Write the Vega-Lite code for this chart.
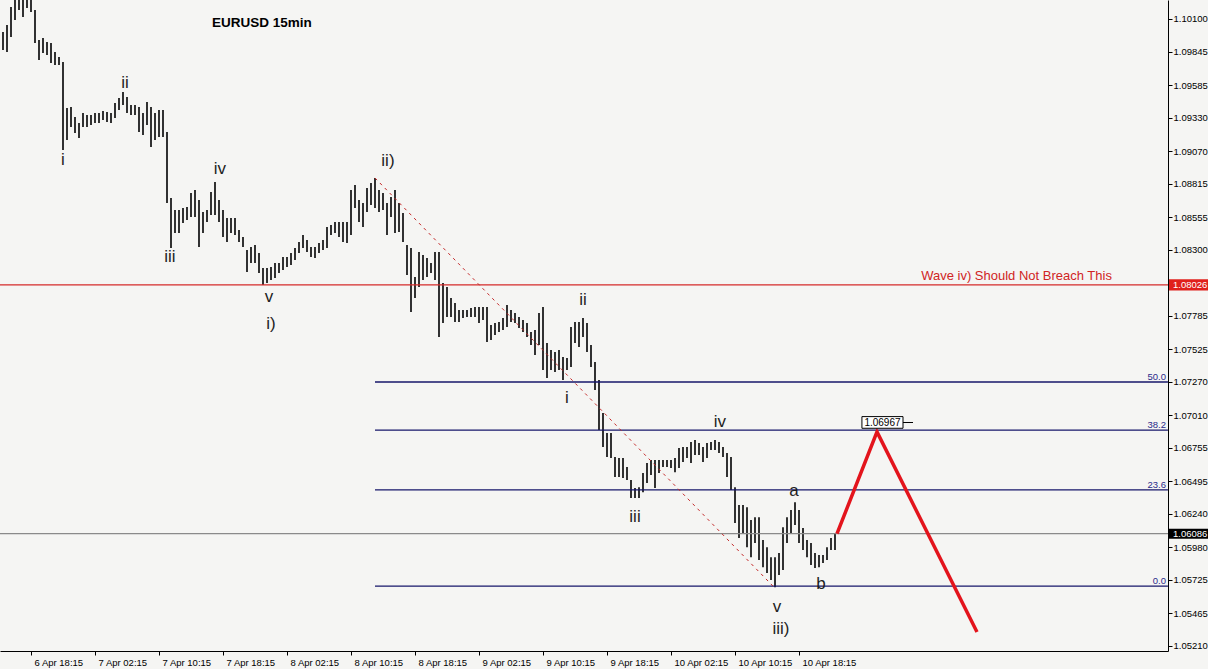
{
  "$schema": "https://vega.github.io/schema/vega-lite/v6.json",
  "width": 1168,
  "height": 651,
  "autosize": {"type": "none"},
  "padding": {"left": 0, "top": 0, "right": 40, "bottom": 18},
  "background": "#f5f5f3",
  "view": {"stroke": null},
  "resolve": {"axis": {"x": "independent", "y": "independent"}},
  "config": {
    "font": "Liberation Sans",
    "axis": {"labelOverlap": false, "labelBound": false, "labelFlush": false, "labelSeparation": 0, "grid": false, "tickSize": 4, "tickColor": "#000000", "domainColor": "#000000", "labelColor": "#000000", "labelFontSize": 9.5, "domainWidth": 1, "tickWidth": 1},
    "axisX": {"labelAlign": "left", "labelOffset": 3, "labelBaseline": "top", "labelPadding": 2},
    "axisY": {"labelAlign": "left", "labelPadding": 1, "labelBaseline": "middle"}
  },
  "datasets": {
    "bars": [
      {"t":"2015-04-06T14:45Z","h":1.09998,"l":1.09858},
      {"t":"2015-04-06T15:15Z","h":1.10053,"l":1.09842},
      {"t":"2015-04-06T15:45Z","h":1.10193,"l":1.09959},
      {"t":"2015-04-06T16:15Z","h":1.10310,"l":1.10092},
      {"t":"2015-04-06T16:45Z","h":1.10326,"l":1.10170},
      {"t":"2015-04-06T17:15Z","h":1.10310,"l":1.10115},
      {"t":"2015-04-06T17:45Z","h":1.10326,"l":1.10186},
      {"t":"2015-04-06T18:15Z","h":1.10295,"l":1.10154},
      {"t":"2015-04-06T18:45Z","h":1.10170,"l":1.09913},
      {"t":"2015-04-06T19:15Z","h":1.09936,"l":1.09780},
      {"t":"2015-04-06T19:45Z","h":1.09952,"l":1.09835},
      {"t":"2015-04-06T20:15Z","h":1.09920,"l":1.09819},
      {"t":"2015-04-06T20:45Z","h":1.09913,"l":1.09757},
      {"t":"2015-04-06T21:15Z","h":1.09842,"l":1.09741},
      {"t":"2015-04-06T21:45Z","h":1.09803,"l":1.09741},
      {"t":"2015-04-06T22:15Z","h":1.09764,"l":1.09078},
      {"t":"2015-04-06T22:45Z","h":1.09406,"l":1.09156},
      {"t":"2015-04-06T23:15Z","h":1.09413,"l":1.09257},
      {"t":"2015-04-06T23:45Z","h":1.09335,"l":1.09211},
      {"t":"2015-04-07T00:15Z","h":1.09289,"l":1.09172},
      {"t":"2015-04-07T00:45Z","h":1.09367,"l":1.09257},
      {"t":"2015-04-07T01:15Z","h":1.09351,"l":1.09257},
      {"t":"2015-04-07T01:45Z","h":1.09351,"l":1.09273},
      {"t":"2015-04-07T02:15Z","h":1.09367,"l":1.09289},
      {"t":"2015-04-07T02:45Z","h":1.09367,"l":1.09289},
      {"t":"2015-04-07T03:15Z","h":1.09382,"l":1.09312},
      {"t":"2015-04-07T03:45Z","h":1.09374,"l":1.09296},
      {"t":"2015-04-07T04:15Z","h":1.09367,"l":1.09289},
      {"t":"2015-04-07T04:45Z","h":1.09445,"l":1.09328},
      {"t":"2015-04-07T05:15Z","h":1.09484,"l":1.09390},
      {"t":"2015-04-07T05:45Z","h":1.09530,"l":1.09429},
      {"t":"2015-04-07T06:15Z","h":1.09491,"l":1.09367},
      {"t":"2015-04-07T06:45Z","h":1.09429,"l":1.09351},
      {"t":"2015-04-07T07:15Z","h":1.09429,"l":1.09351},
      {"t":"2015-04-07T07:45Z","h":1.09413,"l":1.09218},
      {"t":"2015-04-07T08:15Z","h":1.09367,"l":1.09195},
      {"t":"2015-04-07T08:45Z","h":1.09452,"l":1.09273},
      {"t":"2015-04-07T09:15Z","h":1.09413,"l":1.09101},
      {"t":"2015-04-07T09:45Z","h":1.09367,"l":1.09156},
      {"t":"2015-04-07T10:15Z","h":1.09390,"l":1.09179},
      {"t":"2015-04-07T10:45Z","h":1.09390,"l":1.09179},
      {"t":"2015-04-07T11:15Z","h":1.09218,"l":1.08665},
      {"t":"2015-04-07T11:45Z","h":1.08704,"l":1.08314},
      {"t":"2015-04-07T12:15Z","h":1.08610,"l":1.08431},
      {"t":"2015-04-07T12:45Z","h":1.08610,"l":1.08431},
      {"t":"2015-04-07T13:15Z","h":1.08626,"l":1.08509},
      {"t":"2015-04-07T13:45Z","h":1.08633,"l":1.08532},
      {"t":"2015-04-07T14:15Z","h":1.08743,"l":1.08555},
      {"t":"2015-04-07T14:45Z","h":1.08766,"l":1.08555},
      {"t":"2015-04-07T15:15Z","h":1.08688,"l":1.08321},
      {"t":"2015-04-07T15:45Z","h":1.08594,"l":1.08431},
      {"t":"2015-04-07T16:15Z","h":1.08610,"l":1.08516},
      {"t":"2015-04-07T16:45Z","h":1.08750,"l":1.08571},
      {"t":"2015-04-07T17:15Z","h":1.08828,"l":1.08571},
      {"t":"2015-04-07T17:45Z","h":1.08688,"l":1.08516},
      {"t":"2015-04-07T18:15Z","h":1.08610,"l":1.08399},
      {"t":"2015-04-07T18:45Z","h":1.08548,"l":1.08360},
      {"t":"2015-04-07T19:15Z","h":1.08548,"l":1.08431},
      {"t":"2015-04-07T19:45Z","h":1.08548,"l":1.08415},
      {"t":"2015-04-07T20:15Z","h":1.08454,"l":1.08360},
      {"t":"2015-04-07T20:45Z","h":1.08399,"l":1.08321},
      {"t":"2015-04-07T21:15Z","h":1.08298,"l":1.08126},
      {"t":"2015-04-07T21:45Z","h":1.08321,"l":1.08197},
      {"t":"2015-04-07T22:15Z","h":1.08337,"l":1.08197},
      {"t":"2015-04-07T22:45Z","h":1.08275,"l":1.08119},
      {"t":"2015-04-07T23:15Z","h":1.08158,"l":1.08025},
      {"t":"2015-04-07T23:45Z","h":1.08158,"l":1.08041},
      {"t":"2015-04-08T00:15Z","h":1.08165,"l":1.08064},
      {"t":"2015-04-08T00:45Z","h":1.08197,"l":1.08080},
      {"t":"2015-04-08T01:15Z","h":1.08197,"l":1.08119},
      {"t":"2015-04-08T01:45Z","h":1.08243,"l":1.08142},
      {"t":"2015-04-08T02:15Z","h":1.08243,"l":1.08165},
      {"t":"2015-04-08T02:45Z","h":1.08275,"l":1.08181},
      {"t":"2015-04-08T03:15Z","h":1.08314,"l":1.08220},
      {"t":"2015-04-08T03:45Z","h":1.08360,"l":1.08275},
      {"t":"2015-04-08T04:15Z","h":1.08415,"l":1.08314},
      {"t":"2015-04-08T04:45Z","h":1.08376,"l":1.08282},
      {"t":"2015-04-08T05:15Z","h":1.08321,"l":1.08243},
      {"t":"2015-04-08T05:45Z","h":1.08321,"l":1.08236},
      {"t":"2015-04-08T06:15Z","h":1.08353,"l":1.08275},
      {"t":"2015-04-08T06:45Z","h":1.08376,"l":1.08298},
      {"t":"2015-04-08T07:15Z","h":1.08477,"l":1.08314},
      {"t":"2015-04-08T07:45Z","h":1.08493,"l":1.08415},
      {"t":"2015-04-08T08:15Z","h":1.08516,"l":1.08431},
      {"t":"2015-04-08T08:45Z","h":1.08516,"l":1.08399},
      {"t":"2015-04-08T09:15Z","h":1.08516,"l":1.08360},
      {"t":"2015-04-08T09:45Z","h":1.08516,"l":1.08353},
      {"t":"2015-04-08T10:15Z","h":1.08766,"l":1.08415},
      {"t":"2015-04-08T10:45Z","h":1.08805,"l":1.08626},
      {"t":"2015-04-08T11:15Z","h":1.08688,"l":1.08516},
      {"t":"2015-04-08T11:45Z","h":1.08665,"l":1.08477},
      {"t":"2015-04-08T12:15Z","h":1.08782,"l":1.08594},
      {"t":"2015-04-08T12:45Z","h":1.08821,"l":1.08649},
      {"t":"2015-04-08T13:15Z","h":1.08860,"l":1.08626},
      {"t":"2015-04-08T13:45Z","h":1.08766,"l":1.08594},
      {"t":"2015-04-08T14:15Z","h":1.08743,"l":1.08610},
      {"t":"2015-04-08T14:45Z","h":1.08665,"l":1.08415},
      {"t":"2015-04-08T15:15Z","h":1.08711,"l":1.08555},
      {"t":"2015-04-08T15:45Z","h":1.08766,"l":1.08431},
      {"t":"2015-04-08T16:15Z","h":1.08665,"l":1.08438},
      {"t":"2015-04-08T16:45Z","h":1.08587,"l":1.08360},
      {"t":"2015-04-08T17:15Z","h":1.08337,"l":1.08103},
      {"t":"2015-04-08T17:45Z","h":1.08314,"l":1.07814},
      {"t":"2015-04-08T18:15Z","h":1.08087,"l":1.07924},
      {"t":"2015-04-08T18:45Z","h":1.08282,"l":1.08009},
      {"t":"2015-04-08T19:15Z","h":1.08259,"l":1.08064},
      {"t":"2015-04-08T19:45Z","h":1.08236,"l":1.08087},
      {"t":"2015-04-08T20:15Z","h":1.08197,"l":1.08119},
      {"t":"2015-04-08T20:45Z","h":1.08282,"l":1.08064},
      {"t":"2015-04-08T21:15Z","h":1.08282,"l":1.07619},
      {"t":"2015-04-08T21:45Z","h":1.08041,"l":1.07729},
      {"t":"2015-04-08T22:15Z","h":1.08009,"l":1.07775},
      {"t":"2015-04-08T22:45Z","h":1.07924,"l":1.07775},
      {"t":"2015-04-08T23:15Z","h":1.07885,"l":1.07736},
      {"t":"2015-04-08T23:45Z","h":1.07830,"l":1.07736},
      {"t":"2015-04-09T00:15Z","h":1.07830,"l":1.07768},
      {"t":"2015-04-09T00:45Z","h":1.07830,"l":1.07775},
      {"t":"2015-04-09T01:15Z","h":1.07846,"l":1.07775},
      {"t":"2015-04-09T01:45Z","h":1.07853,"l":1.07775},
      {"t":"2015-04-09T02:15Z","h":1.07853,"l":1.07729},
      {"t":"2015-04-09T02:45Z","h":1.07853,"l":1.07752},
      {"t":"2015-04-09T03:15Z","h":1.07853,"l":1.07580},
      {"t":"2015-04-09T03:45Z","h":1.07713,"l":1.07596},
      {"t":"2015-04-09T04:15Z","h":1.07729,"l":1.07635},
      {"t":"2015-04-09T04:45Z","h":1.07736,"l":1.07658},
      {"t":"2015-04-09T05:15Z","h":1.07768,"l":1.07674},
      {"t":"2015-04-09T05:45Z","h":1.07869,"l":1.07697},
      {"t":"2015-04-09T06:15Z","h":1.07830,"l":1.07736},
      {"t":"2015-04-09T06:45Z","h":1.07807,"l":1.07729},
      {"t":"2015-04-09T07:15Z","h":1.07775,"l":1.07690},
      {"t":"2015-04-09T07:45Z","h":1.07752,"l":1.07658},
      {"t":"2015-04-09T08:15Z","h":1.07729,"l":1.07619},
      {"t":"2015-04-09T08:45Z","h":1.07658,"l":1.07557},
      {"t":"2015-04-09T09:15Z","h":1.07674,"l":1.07479},
      {"t":"2015-04-09T09:45Z","h":1.07807,"l":1.07557},
      {"t":"2015-04-09T10:15Z","h":1.07853,"l":1.07362},
      {"t":"2015-04-09T10:45Z","h":1.07573,"l":1.07300},
      {"t":"2015-04-09T11:15Z","h":1.07518,"l":1.07362},
      {"t":"2015-04-09T11:45Z","h":1.07502,"l":1.07346},
      {"t":"2015-04-09T12:15Z","h":1.07518,"l":1.07362},
      {"t":"2015-04-09T12:45Z","h":1.07463,"l":1.07284},
      {"t":"2015-04-09T13:15Z","h":1.07456,"l":1.07362},
      {"t":"2015-04-09T13:45Z","h":1.07697,"l":1.07385},
      {"t":"2015-04-09T14:15Z","h":1.07736,"l":1.07573},
      {"t":"2015-04-09T14:45Z","h":1.07736,"l":1.07541},
      {"t":"2015-04-09T15:15Z","h":1.07768,"l":1.07619},
      {"t":"2015-04-09T15:45Z","h":1.07729,"l":1.07502},
      {"t":"2015-04-09T16:15Z","h":1.07557,"l":1.07385},
      {"t":"2015-04-09T16:45Z","h":1.07424,"l":1.07206},
      {"t":"2015-04-09T17:15Z","h":1.07284,"l":1.06894},
      {"t":"2015-04-09T17:45Z","h":1.07027,"l":1.06762},
      {"t":"2015-04-09T18:15Z","h":1.06871,"l":1.06684},
      {"t":"2015-04-09T18:45Z","h":1.06871,"l":1.06676},
      {"t":"2015-04-09T19:15Z","h":1.06684,"l":1.06528},
      {"t":"2015-04-09T19:45Z","h":1.06676,"l":1.06528},
      {"t":"2015-04-09T20:15Z","h":1.06676,"l":1.06520},
      {"t":"2015-04-09T20:45Z","h":1.06605,"l":1.06504},
      {"t":"2015-04-09T21:15Z","h":1.06504,"l":1.06364},
      {"t":"2015-04-09T21:45Z","h":1.06442,"l":1.06364},
      {"t":"2015-04-09T22:15Z","h":1.06449,"l":1.06364},
      {"t":"2015-04-09T22:45Z","h":1.06559,"l":1.06410},
      {"t":"2015-04-09T23:15Z","h":1.06637,"l":1.06481},
      {"t":"2015-04-09T23:45Z","h":1.06660,"l":1.06543},
      {"t":"2015-04-10T00:15Z","h":1.06660,"l":1.06442},
      {"t":"2015-04-10T00:45Z","h":1.06660,"l":1.06559},
      {"t":"2015-04-10T01:15Z","h":1.06660,"l":1.06605},
      {"t":"2015-04-10T01:45Z","h":1.06660,"l":1.06605},
      {"t":"2015-04-10T02:15Z","h":1.06660,"l":1.06598},
      {"t":"2015-04-10T02:45Z","h":1.06676,"l":1.06566},
      {"t":"2015-04-10T03:15Z","h":1.06754,"l":1.06598},
      {"t":"2015-04-10T03:45Z","h":1.06762,"l":1.06645},
      {"t":"2015-04-10T04:15Z","h":1.06762,"l":1.06676},
      {"t":"2015-04-10T04:45Z","h":1.06800,"l":1.06637},
      {"t":"2015-04-10T05:15Z","h":1.06816,"l":1.06699},
      {"t":"2015-04-10T05:45Z","h":1.06793,"l":1.06699},
      {"t":"2015-04-10T06:15Z","h":1.06762,"l":1.06645},
      {"t":"2015-04-10T06:45Z","h":1.06793,"l":1.06676},
      {"t":"2015-04-10T07:15Z","h":1.06800,"l":1.06738},
      {"t":"2015-04-10T07:45Z","h":1.06816,"l":1.06738},
      {"t":"2015-04-10T08:15Z","h":1.06800,"l":1.06715},
      {"t":"2015-04-10T08:45Z","h":1.06762,"l":1.06684},
      {"t":"2015-04-10T09:15Z","h":1.06715,"l":1.06528},
      {"t":"2015-04-10T09:45Z","h":1.06684,"l":1.06426},
      {"t":"2015-04-10T10:15Z","h":1.06449,"l":1.06169},
      {"t":"2015-04-10T10:45Z","h":1.06309,"l":1.06052},
      {"t":"2015-04-10T11:15Z","h":1.06309,"l":1.06091},
      {"t":"2015-04-10T11:45Z","h":1.06293,"l":1.05981},
      {"t":"2015-04-10T12:15Z","h":1.06192,"l":1.05903},
      {"t":"2015-04-10T12:45Z","h":1.06215,"l":1.06013},
      {"t":"2015-04-10T13:15Z","h":1.06215,"l":1.05880},
      {"t":"2015-04-10T13:45Z","h":1.06036,"l":1.05825},
      {"t":"2015-04-10T14:15Z","h":1.05981,"l":1.05779},
      {"t":"2015-04-10T14:45Z","h":1.05903,"l":1.05724},
      {"t":"2015-04-10T15:15Z","h":1.05903,"l":1.05669},
      {"t":"2015-04-10T15:45Z","h":1.05935,"l":1.05763},
      {"t":"2015-04-10T16:15Z","h":1.06137,"l":1.05802},
      {"t":"2015-04-10T16:45Z","h":1.06215,"l":1.06013},
      {"t":"2015-04-10T17:15Z","h":1.06270,"l":1.06091},
      {"t":"2015-04-10T17:45Z","h":1.06332,"l":1.06153},
      {"t":"2015-04-10T18:15Z","h":1.06270,"l":1.06013},
      {"t":"2015-04-10T18:45Z","h":1.06130,"l":1.05958},
      {"t":"2015-04-10T19:15Z","h":1.06036,"l":1.05903},
      {"t":"2015-04-10T19:45Z","h":1.06013,"l":1.05841},
      {"t":"2015-04-10T20:15Z","h":1.05935,"l":1.05818},
      {"t":"2015-04-10T20:45Z","h":1.05919,"l":1.05825},
      {"t":"2015-04-10T21:15Z","h":1.05919,"l":1.05857},
      {"t":"2015-04-10T21:45Z","h":1.05981,"l":1.05880},
      {"t":"2015-04-10T22:15Z","h":1.06052,"l":1.05958},
      {"t":"2015-04-10T22:45Z","h":1.06086,"l":1.05958}
    ],
    "hlines": [
      {"p": 1.08026, "c": "#d42a2a"},
      {"p": 1.06086, "c": "#8a8a8a"}
    ],
    "fib": [
      {"t0": "2015-04-08T13:15Z", "t1": "2015-04-12T16:22Z", "p": 1.07269, "s": "50.0"},
      {"t0": "2015-04-08T13:15Z", "t1": "2015-04-12T16:22Z", "p": 1.06894, "s": "38.2"},
      {"t0": "2015-04-08T13:15Z", "t1": "2015-04-12T16:22Z", "p": 1.06428, "s": "23.6"},
      {"t0": "2015-04-08T13:15Z", "t1": "2015-04-12T16:22Z", "p": 1.05677, "s": "0.0"}
    ],
    "diag": [
      {"t": "2015-04-08T13:15Z", "p": 1.08860},
      {"t": "2015-04-10T15:00Z", "p": 1.05677}
    ],
    "proj": [
      {"t": "2015-04-10T23:00Z", "p": 1.06086},
      {"t": "2015-04-11T04:00Z", "p": 1.06880},
      {"t": "2015-04-11T16:30Z", "p": 1.05319}
    ],
    "waves": [
      {"t": "2015-04-06T22:15Z", "p": 1.09000, "s": "i"},
      {"t": "2015-04-07T06:00Z", "p": 1.09601, "s": "ii"},
      {"t": "2015-04-07T11:37Z", "p": 1.08243, "s": "iii"},
      {"t": "2015-04-07T17:52Z", "p": 1.08930, "s": "iv"},
      {"t": "2015-04-08T00:00Z", "p": 1.07931, "s": "v"},
      {"t": "2015-04-08T00:15Z", "p": 1.07721, "s": "i)"},
      {"t": "2015-04-08T14:52Z", "p": 1.08992, "s": "ii)"},
      {"t": "2015-04-09T15:15Z", "p": 1.07908, "s": "ii"},
      {"t": "2015-04-09T13:15Z", "p": 1.07144, "s": "i"},
      {"t": "2015-04-09T21:45Z", "p": 1.06215, "s": "iii"},
      {"t": "2015-04-10T08:22Z", "p": 1.06956, "s": "iv"},
      {"t": "2015-04-10T17:37Z", "p": 1.06418, "s": "a"},
      {"t": "2015-04-10T21:00Z", "p": 1.05693, "s": "b"},
      {"t": "2015-04-10T15:30Z", "p": 1.05513, "s": "v"},
      {"t": "2015-04-10T16:00Z", "p": 1.05342, "s": "iii)"}
    ],
    "title": [
      {"t": "2015-04-07T16:52Z", "p": 1.10069, "s": "EURUSD 15min"}
    ],
    "note": [
      {"t": "2015-04-12T09:22Z", "p": 1.08064, "s": "Wave iv) Should Not Breach This"}
    ],
    "pricetags": [
      {"t0": "2015-04-12T16:30Z", "t1": "2015-04-12T21:30Z", "t": "2015-04-12T17:00Z", "p0": 1.08070, "p1": 1.07982, "p": 1.08026, "s": "1.08026", "c": "#e0201c"},
      {"t0": "2015-04-12T16:30Z", "t1": "2015-04-12T21:30Z", "t": "2015-04-12T17:00Z", "p0": 1.06125, "p1": 1.06047, "p": 1.06086, "s": "1.06086", "c": "#000000"}
    ],
    "target": [
      {"t0": "2015-04-11T02:07Z", "t1": "2015-04-11T07:15Z", "t2": "2015-04-11T08:30Z", "t": "2015-04-11T04:41Z", "p0": 1.06999, "p1": 1.06908, "p": 1.06953, "s": "1.06967"}
    ]
  },
  "layer": [
    {
      "data": {"name": "bars"},
      "mark": {"type": "rule", "strokeWidth": 1.6, "color": "#000000", "clip": true},
      "encoding": {
        "x": {
          "field": "t", "type": "temporal", "title": null,
          "scale": {"type": "utc", "domain": [
            {"year": 2015, "month": 4, "date": 6, "hours": 14, "minutes": 22, "seconds": 30, "utc": true},
            {"year": 2015, "month": 4, "date": 12, "hours": 16, "minutes": 22, "seconds": 30, "utc": true}
          ]},
          "axis": {
            "orient": "bottom", "title": null, "labelOverlap": false,
            "values": [
              {"year": 2015, "month": 4, "date": 6, "hours": 18, "minutes": 15, "utc": true},
              {"year": 2015, "month": 4, "date": 7, "hours": 2, "minutes": 15, "utc": true},
              {"year": 2015, "month": 4, "date": 7, "hours": 10, "minutes": 15, "utc": true},
              {"year": 2015, "month": 4, "date": 7, "hours": 18, "minutes": 15, "utc": true},
              {"year": 2015, "month": 4, "date": 8, "hours": 2, "minutes": 15, "utc": true},
              {"year": 2015, "month": 4, "date": 8, "hours": 10, "minutes": 15, "utc": true},
              {"year": 2015, "month": 4, "date": 8, "hours": 18, "minutes": 15, "utc": true},
              {"year": 2015, "month": 4, "date": 9, "hours": 2, "minutes": 15, "utc": true},
              {"year": 2015, "month": 4, "date": 9, "hours": 10, "minutes": 15, "utc": true},
              {"year": 2015, "month": 4, "date": 9, "hours": 18, "minutes": 15, "utc": true},
              {"year": 2015, "month": 4, "date": 10, "hours": 2, "minutes": 15, "utc": true},
              {"year": 2015, "month": 4, "date": 10, "hours": 10, "minutes": 15, "utc": true},
              {"year": 2015, "month": 4, "date": 10, "hours": 18, "minutes": 15, "utc": true}
            ],
            "format": "%-d %b %H:%M"
          }
        },
        "y": {
          "field": "h", "type": "quantitative", "title": null,
          "scale": {"domain": [1.05171, 1.10248], "zero": false, "nice": false},
          "axis": {
            "orient": "right", "title": null, "labelOverlap": false,
            "values": [1.101, 1.09845, 1.09585, 1.0933, 1.0907, 1.08815, 1.08555, 1.083, 1.07785, 1.07525, 1.0727, 1.0701, 1.06755, 1.06495, 1.0624, 1.0598, 1.05725, 1.05465, 1.0521],
            "format": ".5f"
          }
        },
        "y2": {"field": "l"}
      }
    },
    {
      "data": {"name": "hlines"},
      "mark": {"type": "rule", "strokeWidth": 1.2},
      "encoding": {
        "y": {"field": "p", "type": "quantitative", "axis": null},
        "color": {"field": "c", "type": "nominal", "scale": null}
      }
    },
    {
      "data": {"name": "fib"},
      "mark": {"type": "rule", "strokeWidth": 1.3, "color": "#16166a"},
      "encoding": {
        "x": {"field": "t0", "type": "temporal", "axis": null},
        "x2": {"field": "t1"},
        "y": {"field": "p", "type": "quantitative", "axis": null}
      }
    },
    {
      "data": {"name": "fib"},
      "mark": {"type": "text", "align": "right", "baseline": "alphabetic", "dx": -2, "dy": -2, "fontSize": 9.5, "color": "#2a2a8a"},
      "encoding": {
        "x": {"field": "t1", "type": "temporal", "axis": null},
        "y": {"field": "p", "type": "quantitative", "axis": null},
        "text": {"field": "s"}
      }
    },
    {
      "data": {"name": "diag"},
      "mark": {"type": "line", "strokeWidth": 1, "color": "#c42a2a", "strokeDash": [3, 4]},
      "encoding": {
        "x": {"field": "t", "type": "temporal", "axis": null},
        "y": {"field": "p", "type": "quantitative", "axis": null}
      }
    },
    {
      "data": {"name": "proj"},
      "mark": {"type": "line", "strokeWidth": 3.5, "color": "#e3141c"},
      "encoding": {
        "x": {"field": "t", "type": "temporal", "axis": null},
        "y": {"field": "p", "type": "quantitative", "axis": null}
      }
    },
    {
      "data": {"name": "waves"},
      "mark": {"type": "text", "align": "center", "baseline": "middle", "fontSize": 17, "color": "#1e1e1e"},
      "encoding": {
        "x": {"field": "t", "type": "temporal", "axis": null},
        "y": {"field": "p", "type": "quantitative", "axis": null},
        "text": {"field": "s"}
      }
    },
    {
      "data": {"name": "title"},
      "mark": {"type": "text", "align": "left", "baseline": "middle", "fontSize": 13.5, "fontWeight": "bold", "color": "#000000"},
      "encoding": {
        "x": {"field": "t", "type": "temporal", "axis": null},
        "y": {"field": "p", "type": "quantitative", "axis": null},
        "text": {"field": "s"}
      }
    },
    {
      "data": {"name": "note"},
      "mark": {"type": "text", "align": "right", "baseline": "alphabetic", "fontSize": 13, "color": "#d02424"},
      "encoding": {
        "x": {"field": "t", "type": "temporal", "axis": null},
        "y": {"field": "p", "type": "quantitative", "axis": null},
        "text": {"field": "s"}
      }
    },
    {
      "data": {"name": "pricetags"},
      "mark": {"type": "rect"},
      "encoding": {
        "x": {"field": "t0", "type": "temporal", "axis": null},
        "x2": {"field": "t1"},
        "y": {"field": "p0", "type": "quantitative", "axis": null},
        "y2": {"field": "p1"},
        "color": {"field": "c", "type": "nominal", "scale": null}
      }
    },
    {
      "data": {"name": "pricetags"},
      "mark": {"type": "text", "align": "left", "baseline": "middle", "fontSize": 9.5, "color": "#ffffff"},
      "encoding": {
        "x": {"field": "t", "type": "temporal", "axis": null},
        "y": {"field": "p", "type": "quantitative", "axis": null},
        "text": {"field": "s"}
      }
    },
    {
      "data": {"name": "target"},
      "mark": {"type": "rule", "strokeWidth": 1, "color": "#000000"},
      "encoding": {
        "x": {"field": "t1", "type": "temporal", "axis": null},
        "x2": {"field": "t2"},
        "y": {"field": "p", "type": "quantitative", "axis": null}
      }
    },
    {
      "data": {"name": "target"},
      "mark": {"type": "rect", "fill": "#ffffff", "stroke": "#000000", "strokeWidth": 1},
      "encoding": {
        "x": {"field": "t0", "type": "temporal", "axis": null},
        "x2": {"field": "t1"},
        "y": {"field": "p0", "type": "quantitative", "axis": null},
        "y2": {"field": "p1"}
      }
    },
    {
      "data": {"name": "target"},
      "mark": {"type": "text", "align": "center", "baseline": "middle", "fontSize": 10, "color": "#000000"},
      "encoding": {
        "x": {"field": "t", "type": "temporal", "axis": null},
        "y": {"field": "p", "type": "quantitative", "axis": null},
        "text": {"field": "s"}
      }
    }
  ]
}
